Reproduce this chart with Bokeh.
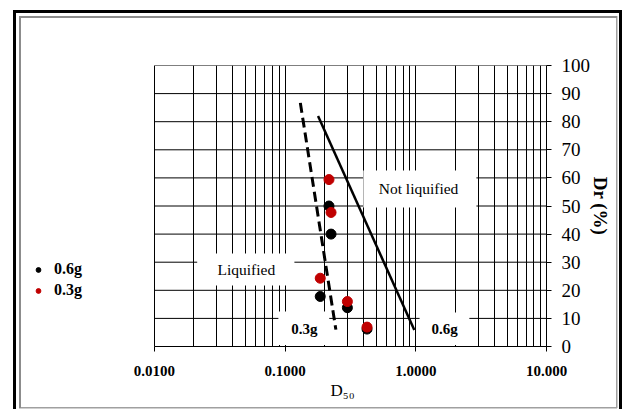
from bokeh.plotting import figure
from bokeh.models import FixedTicker, BoxAnnotation, Label, Legend, Title
from bokeh.embed import file_html
from bokeh.resources import INLINE

# ---- data ----
d50_06 = [0.217, 0.225, 0.186, 0.30, 0.424]
dr_06 = [50, 40, 17.8, 13.8, 6.2]
d50_03 = [0.217, 0.225, 0.186, 0.30, 0.424]
dr_03 = [59.4, 47.7, 24.3, 16.0, 6.9]
line03_x = [0.131, 0.245]
line03_y = [86.7, 6.0]
line06_x = [0.179, 0.975]
line06_y = [82.0, 5.9]
x_ticks = [0.01, 0.1, 1, 10]
x_tick_labels = ["0.0100", "0.1000", "1.0000", "10.000"]
y_ticks = [0, 10, 20, 30, 40, 50, 60, 70, 80, 90, 100]
x_minor = [m * d for d in [0.01, 0.1, 1] for m in range(2, 10)]
series_names = ["0.6g", "0.3g"]

SERIF = "Liberation Serif"
RED = "#C00000"

# the frame reaches left to hold the legend; the grid itself spans 0.01..10
p = figure(width=622, height=409, x_axis_type="log", x_range=(0.001, 10), y_range=(0, 100),
           y_axis_location="right", output_backend="svg", toolbar_location=None,
           min_border_left=23, min_border_right=76, min_border_top=65, min_border_bottom=63)
p.background_fill_color = "white"
p.border_fill_color = "white"
p.border_fill_alpha = 0
p.outline_line_color = None

# chart frame (outer black + inner grey) painted behind the transparent canvas border
frame_parts = [
    ("#000000", "13px 10px", "3px 399px"),
    ("#000000", "13px 10px", "609px 3px"),
    ("#000000", "619px 10px", "3px 399px"),
    ("#8c8c8c", "19px 16px", "2px 392px"),
    ("#8c8c8c", "19px 16px", "598px 2px"),
    ("#a0a0a0", "616px 16px", "1.5px 392px"),
    ("#a0a0a0", "19px 407px", "598px 1.5px"),
]
p.styles = {
    "background-color": "white",
    "background-image": ", ".join(f"linear-gradient({c}, {c})" for c, _, _ in frame_parts),
    "background-position": ", ".join(pos for _, pos, _ in frame_parts),
    "background-size": ", ".join(sz for _, _, sz in frame_parts),
    "background-repeat": "no-repeat",
}

# vertical grid (log decades + minor)
p.xgrid.ticker = FixedTicker(ticks=x_ticks, minor_ticks=x_minor)
p.xgrid.grid_line_color = "black"
p.xgrid.grid_line_width = 1
p.xgrid.minor_grid_line_color = "black"
p.xgrid.minor_grid_line_width = 1
# horizontal grid limited to the 0.01..10 span
p.ygrid.visible = False
n_y = len(y_ticks)
p.segment(x0=[x_ticks[0]] * n_y, y0=y_ticks, x1=[x_ticks[-1]] * n_y, y1=y_ticks,
          line_color="black", line_width=1)

# x axis
xa = p.xaxis[0]
xa.ticker = FixedTicker(ticks=x_ticks)
xa.bounds = (x_ticks[0], x_ticks[-1])
ov = {}
for v, lab in zip(x_ticks, x_tick_labels):
    ov[float(v)] = lab
    ov[f"{v:g}"] = lab
xa.major_label_overrides = ov
xa.major_label_text_font = SERIF
xa.major_label_text_font_style = "bold"
xa.major_label_text_font_size = "15px"
xa.major_label_text_color = "black"
xa.major_label_standoff = 14
xa.major_tick_in = 0
xa.major_tick_out = 5
xa.minor_tick_line_color = None
xa.axis_line_color = "black"

# x axis title, centred under the grid
p.add_layout(Title(text="D\u2085\u2080", align="left", offset=307, standoff=0,
                   text_font=SERIF, text_font_style="normal", text_font_size="17px",
                   text_color="black"), "below")

# y axis (right)
ya = p.yaxis[0]
ya.ticker = FixedTicker(ticks=y_ticks)
ya.major_label_text_font = SERIF
ya.major_label_text_font_size = "19px"
ya.major_label_text_color = "black"
ya.major_label_standoff = 10
ya.major_tick_in = 0
ya.major_tick_out = 5
ya.minor_tick_line_color = None
ya.axis_line_color = "black"
ya.axis_label = "Dr (%)"
ya.axis_label_text_font = SERIF
ya.axis_label_text_font_style = "bold"
ya.axis_label_text_font_size = "19px"
ya.axis_label_text_color = "black"
ya.axis_label_standoff = -3

# boundary lines
p.line(line03_x, line03_y, line_color="black", line_width=3, line_dash="10 5")
p.line(line06_x, line06_y, line_color="black", line_width=2.5)

# points
r6 = p.scatter(d50_06, dr_06, size=10, color="black")
r3 = p.scatter(d50_03, dr_03, size=10, color=RED)

# white label boxes over the grid
for l, r, b, t in [(0.397, 2.91, 49.5, 62.6), (0.0213, 0.118, 21.7, 33.1),
                   (0.089, 0.218, 0.5, 12.5), (1.07, 2.57, 0.5, 12.1)]:
    p.add_layout(BoxAnnotation(left=l, right=r, bottom=b, top=t, fill_color="white",
                               fill_alpha=1, line_color=None))

# text labels
p.add_layout(Label(x=1.05, y=56.2, text="Not liquified", text_align="center", text_baseline="middle",
                   text_font=SERIF, text_font_size="15.5px", text_color="black"))
p.add_layout(Label(x=0.0506, y=27.4, text="Liquified", text_align="center", text_baseline="middle",
                   text_font=SERIF, text_font_size="15.5px", text_color="black"))
p.add_layout(Label(x=0.1406, y=6.4, text="0.3g", text_align="center", text_baseline="middle",
                   text_font=SERIF, text_font_style="bold", text_font_size="15px", text_color="black"))
p.add_layout(Label(x=1.66, y=6.4, text="0.6g", text_align="center", text_baseline="middle",
                   text_font=SERIF, text_font_style="bold", text_font_size="15px", text_color="black"))

# legend at left of the grid
legend = Legend(items=[(series_names[0], [r6]), (series_names[1], [r3])], location=(9, 47),
                label_text_font=SERIF, label_text_font_style="bold", label_text_font_size="16px",
                label_text_color="black", glyph_width=12, glyph_height=17, label_height=17,
                spacing=3, label_standoff=10, padding=0, margin=0,
                border_line_color=None, background_fill_alpha=0)
p.add_layout(legend)

open("out.html", "w").write(file_html(p, INLINE))
